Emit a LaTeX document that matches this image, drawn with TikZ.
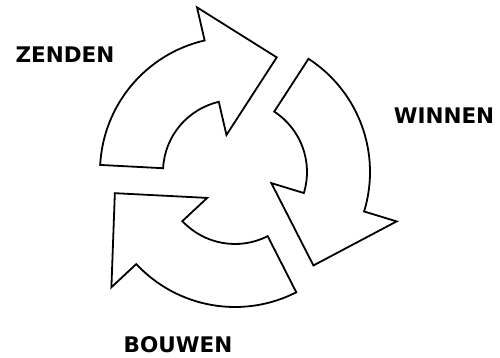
\documentclass[tikz,border=0pt]{standalone}
\usepackage{fontspec}
\usepackage{tikz}
\usetikzlibrary{positioning}
\newfontfamily\labelfont{DejaVu Sans}

\begin{document}
\begin{tikzpicture}[
  x=1pt, y=1pt,
  every node/.style={font=\labelfont\bfseries\fontsize{21.5}{26}\selectfont},
  cyclearrow/.style={draw=black, fill=white, line width=1.8pt, line join=miter},
  steplabel/.style={inner sep=0pt, anchor=center}
]
  \useasboundingbox (0,0) rectangle (500,358);

  % three curved arrows round one centre
  \begin{scope}[shift={(235,186)}]
    \foreach \a in {177,57,-63} {
      \draw[cyclearrow] (\a:72) -- (\a:135)
        arc[start angle=\a, end angle=\a-74, radius=135]
        -- (\a-74:169) -- (\a-107:122) -- (\a-74:38) -- (\a-74:72)
        arc[start angle=\a-74, end angle=\a, radius=72] -- cycle;
    }
  \end{scope}

  \node[steplabel] (zenden) at (65,303) {ZENDEN};
  \node[steplabel] (winnen) at (444,242) {WINNEN};
  \node[steplabel] (bouwen) at (178,13) {BOUWEN};
\end{tikzpicture}
\end{document}
